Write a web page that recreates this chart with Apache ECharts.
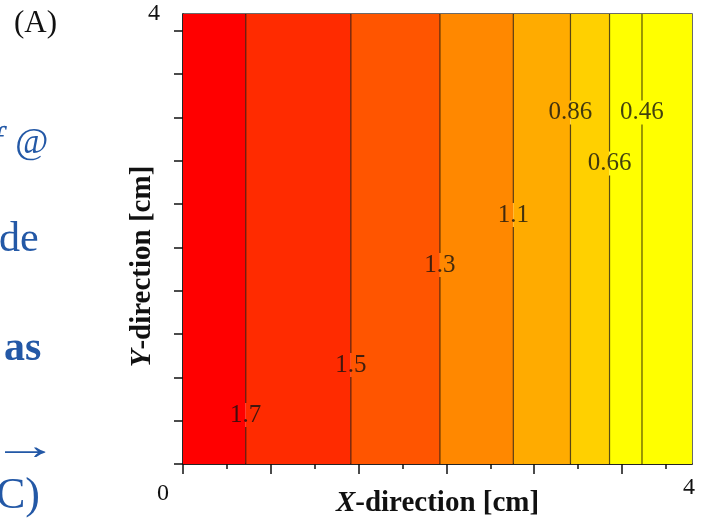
<!DOCTYPE html>
<html>
<head>
<meta charset="utf-8">
<script src="https://cdn.jsdelivr.net/npm/echarts@6/dist/echarts.min.js"></script>
<style>
  html, body { margin: 0; padding: 0; background: #fff; }
  #chart { width: 701px; height: 519px; }
</style>
</head>
<body>
<div id="chart"></div>
<script>
// contour lines (vertical) - x position in cm, value, label height in cm
const contourX = [0.493, 1.319, 2.019, 2.596, 3.045, 3.352, 3.607];
const contourValues = ['1.7', '1.5', '1.3', '1.1', '0.86', '0.66', '0.46'];
const labelY = [0.436, 0.880, 1.769, 2.213, 3.124, 2.671, 3.124];

// filled bands between contours
const bandEdges = [0, 0.493, 1.319, 2.019, 2.596, 3.045, 3.352, 3.607, 4];
const bandColors = ['#ff0000', '#ff2b00', '#ff5500', '#ff8800', '#ffab00', '#ffd000', '#ffff00', '#ffff00'];

// axis ticks
const xMajorTicks = [0, 0.69, 1.38, 2.07, 2.76, 3.45];
const xMinorTicks = [0.345, 1.035, 1.725, 2.415, 3.105, 3.795];
const yTicks = [0, 0.385, 0.77, 1.155, 1.54, 1.925, 2.31, 2.695, 3.08, 3.465, 3.85];
const xLabels = [0, 4];
const yLabels = [4];

const serif = '"Liberation Serif", "Times New Roman", serif';
const blue = '#2358a6';

let chart = echarts.init(document.getElementById('chart'));

let bandData = [];
for (let i = 0; i < bandColors.length; i++) {
  bandData.push([bandEdges[i], bandEdges[i + 1], i]);
}
let lineData = contourX.map((x, i) => [x, labelY[i]]);
let labelData = contourX.map((x, i) => [x, labelY[i], contourValues[i]]);

let option = {
  animation: false,
  grid: {
    left: 183, right: 9, top: 14, bottom: 55,
    containLabel: false, outerBoundsMode: 'none',
    show: true, borderColor: '#3a3a3a', borderWidth: 1.5,
    backgroundColor: 'transparent'
  },
  xAxis: [
    {
      type: 'value', min: 0, max: 4,
      name: '{i|X}{b|-direction [cm]}',
      nameLocation: 'middle', nameGap: 25, nameMoveOverlap: false,
      nameTextStyle: {
        rich: {
          i: { fontFamily: serif, fontSize: 29, fontWeight: 'bold', fontStyle: 'italic', color: '#111' },
          b: { fontFamily: serif, fontSize: 29, fontWeight: 'bold', color: '#111' }
        }
      },
      splitLine: { show: false },
      axisLine: { lineStyle: { color: '#111', width: 1.5 } },
      axisTick: { customValues: xMajorTicks, length: 10, lineStyle: { color: '#111', width: 1.5 } },
      axisLabel: {
        customValues: xLabels, margin: 12,
        formatter: function (v) { return v === xLabels[0] ? '{z|' + v + '}' : '{f|' + v + '}'; },
        rich: {
          z: { fontFamily: serif, fontSize: 24, color: '#111', padding: [6, 40, 0, 0] },
          f: { fontFamily: serif, fontSize: 24, color: '#111', padding: [0, 6, 0, 0] }
        }
      }
    },
    {
      type: 'value', min: 0, max: 4, position: 'bottom',
      splitLine: { show: false },
      axisLine: { show: false },
      axisTick: { customValues: xMinorTicks, length: 5, lineStyle: { color: '#111', width: 1.5 } },
      axisLabel: { show: false }
    }
  ],
  yAxis: {
    type: 'value', min: 0, max: 4,
    name: '{i|Y}{b|-direction [cm]}',
    nameLocation: 'middle', nameGap: 26, nameMoveOverlap: false,
    nameTextStyle: {
      padding: [0, 55, 0, 0],
      rich: {
        i: { fontFamily: serif, fontSize: 29, fontWeight: 'bold', fontStyle: 'italic', color: '#111' },
        b: { fontFamily: serif, fontSize: 29, fontWeight: 'bold', color: '#111' }
      }
    },
    splitLine: { show: false },
    axisLine: { lineStyle: { color: '#111', width: 1.5 } },
    axisTick: { customValues: yTicks, length: 9, lineStyle: { color: '#111', width: 1.5 } },
    axisLabel: {
      customValues: yLabels, margin: 23,
      fontFamily: serif, fontSize: 24, color: '#111',
      verticalAlign: 'middle', padding: [0, 0, 4, 0]
    }
  },
  graphic: [
    { type: 'text', left: 14, top: 8, style: { text: '(A)', font: '31px ' + serif, fill: '#111' } },
    { type: 'text', left: -8, top: 124, style: { text: 'f', font: 'italic 38px ' + serif, fill: blue } },
    { type: 'text', left: 15, top: 126, style: { text: '@', font: 'italic 36px ' + serif, fill: blue } },
    { type: 'text', left: -1, top: 219, style: { text: 'de', font: '42px ' + serif, fill: blue } },
    { type: 'text', left: 4, top: 328, style: { text: 'as', font: 'bold 42px ' + serif, fill: blue, shadowColor: 'rgba(0,0,0,0.35)', shadowBlur: 3, shadowOffsetX: 1, shadowOffsetY: 2 } },
    { type: 'text', x: -9, y: 428, scaleX: 1.7, style: { text: '\u2192', font: '40px ' + serif, fill: blue } },
    { type: 'text', left: -4, top: 474, style: { text: 'C)', font: '44px ' + serif, fill: blue } }
  ],
  series: [
    {
      type: 'custom',
      data: bandData,
      silent: true,
      renderItem: function (params, api) {
        let p0 = api.coord([api.value(0), 4]);
        let p1 = api.coord([api.value(1), 0]);
        return {
          type: 'rect',
          shape: { x: p0[0], y: p0[1], width: p1[0] - p0[0], height: p1[1] - p0[1] },
          style: { fill: bandColors[api.value(2)] }
        };
      },
      z: 1
    },
    {
      type: 'custom',
      data: lineData,
      silent: true,
      renderItem: function (params, api) {
        let top = api.coord([api.value(0), 4]);
        let bot = api.coord([api.value(0), 0]);
        let mid = api.coord([api.value(0), api.value(1)]);
        let gap = 12;
        let st = { stroke: 'rgba(20,10,0,0.7)', lineWidth: 1.2 };
        return {
          type: 'group',
          children: [
            { type: 'line', shape: { x1: top[0], y1: top[1], x2: mid[0], y2: mid[1] - gap }, style: st },
            { type: 'line', shape: { x1: mid[0], y1: mid[1] + gap, x2: bot[0], y2: bot[1] }, style: st }
          ]
        };
      },
      z: 2
    },
    {
      type: 'scatter',
      data: labelData,
      symbolSize: 0,
      silent: true,
      label: {
        show: true, position: 'inside',
        formatter: function (p) { return p.value[2]; },
        fontFamily: serif, fontSize: 25, color: '#111'
      },
      z: 3
    }
  ]
};

option && chart.setOption(option);
</script>
</body>
</html>
